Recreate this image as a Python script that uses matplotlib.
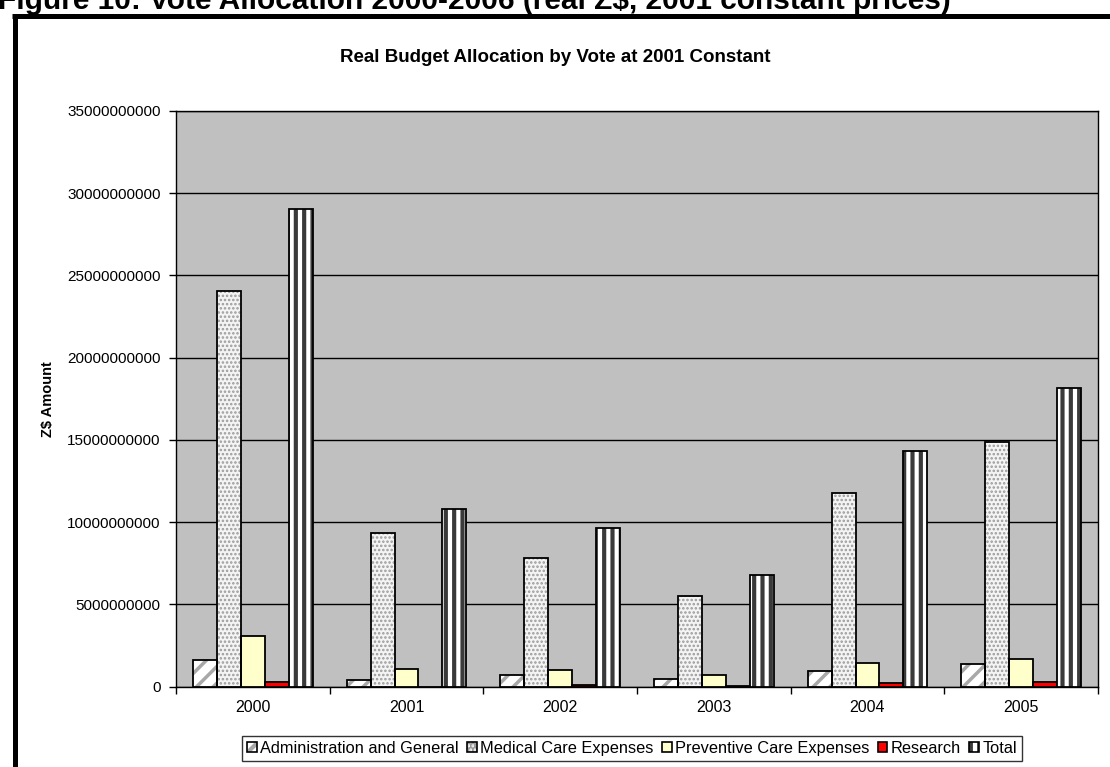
import matplotlib
matplotlib.use("Agg")
import matplotlib.pyplot as plt
from matplotlib.lines import Line2D
from matplotlib.patches import Patch
from matplotlib.legend_handler import HandlerTuple
import numpy as np

plt.rcParams['font.family'] = ['Liberation Sans', 'DejaVu Sans']

years = ['2000', '2001', '2002', '2003', '2004', '2005']
series_names = ['Administration and General', 'Medical Care Expenses',
                'Preventive Care Expenses', 'Research', 'Total']
admin = [1.61e9, 0.38e9, 0.70e9, 0.45e9, 0.96e9, 1.39e9]
medical = [24.08e9, 9.33e9, 7.81e9, 5.50e9, 11.78e9, 14.88e9]
preventive = [3.07e9, 1.08e9, 1.00e9, 0.72e9, 1.41e9, 1.65e9]
research = [0.29e9, 0.0e9, 0.10e9, 0.05e9, 0.19e9, 0.27e9]
total = [29.07e9, 10.77e9, 9.62e9, 6.76e9, 14.33e9, 18.16e9]
yticks = [0, 5e9, 10e9, 15e9, 20e9, 25e9, 30e9, 35e9]

W, H = 1110, 767
fig = plt.figure(figsize=(W / 100, H / 100), dpi=100)
fig.patch.set_facecolor('white')

ax = fig.add_axes([176 / W, 1 - 686.5 / H, (1098 - 176) / W, (686.5 - 111) / H])
ax.set_facecolor('#C0C0C0')

styles = [
    dict(face='white', hatch='//', hcolor='#A8A8A8', hlw=2.5),
    dict(face='#F4F4F4', hatch='....', hcolor='#9A9A9A', hlw=1.2),
    dict(face='#FFFFCC', hatch=None, hcolor='black', hlw=1.0),
    dict(face='#FF0000', hatch=None, hcolor='black', hlw=1.0),
    dict(face='white', hatch='||', hcolor='#3A3A3A', hlw=3.0),
]
data = [admin, medical, preventive, research, total]
x = np.arange(len(years))
w = 0.156


def set_hlw(p, lw):
    try:
        p.set_hatch_linewidth(lw)
    except Exception:
        pass


handles = []
for i, (vals, st) in enumerate(zip(data, styles)):
    pos = x + (i - 2) * w
    if st['hatch']:
        plt.rcParams['hatch.linewidth'] = st['hlw']
        bars = ax.bar(pos, vals, width=w, color=st['face'], edgecolor=st['hcolor'],
                      hatch=st['hatch'], linewidth=0, zorder=3)
        for b in bars:
            set_hlw(b, st['hlw'])
        ax.bar(pos, vals, width=w, fill=False, edgecolor='black', linewidth=1.3, zorder=4)
        h1 = Patch(facecolor=st['face'], edgecolor=st['hcolor'], hatch=st['hatch'], linewidth=0)
        set_hlw(h1, min(st['hlw'], 1.5))
        h2 = Patch(fill=False, edgecolor='black', linewidth=1.2)
        handles.append((h1, h2))
    else:
        ax.bar(pos, vals, width=w, color=st['face'], edgecolor='black',
               linewidth=1.3, zorder=3)
        handles.append(Patch(facecolor=st['face'], edgecolor='black', linewidth=1.2))

ax.set_xlim(-0.5, len(years) - 0.5)
ax.set_ylim(0, 35e9)
ax.set_yticks(yticks)
ax.set_yticklabels([str(int(v)) for v in yticks], fontsize=11)
ax.yaxis.grid(True, color='black', linewidth=1.0, zorder=1)
ax.set_axisbelow(True)
ax.set_xticks(x)
ax.set_xticklabels(years, fontsize=11.5)
ax.tick_params(axis='x', which='major', length=0, pad=10)
ax.set_xticks(np.arange(-0.5, len(years)), minor=True)
ax.tick_params(axis='x', which='minor', length=5, width=1, direction='out', color='black')
ax.tick_params(axis='y', length=5, width=1, direction='out', pad=6)
for s in ax.spines.values():
    s.set_color('black')
    s.set_linewidth(1.0)

ax.set_ylabel('Z$ Amount', fontsize=10.5, fontweight='bold')
ax.yaxis.set_label_coords(-0.131, 0.5)

fig.text(555 / W, 1 - 57 / H, 'Real Budget Allocation by Vote at 2001 Constant',
         ha='center', va='center', fontsize=13.5, fontweight='bold')

fig.text(-2 / W, 1 - 9 / H, 'Figure 10: Vote Allocation 2000-2006 (real Z$, 2001 constant prices)',
         ha='left', va='baseline', fontsize=21.5, fontweight='bold')

fig.add_artist(Line2D([12 / W, 1.0], [1 - 15.5 / H, 1 - 15.5 / H], color='black',
                      linewidth=3.6, transform=fig.transFigure, solid_capstyle='butt'))
fig.add_artist(Line2D([15 / W, 15 / W], [1 - 13.5 / H, 0], color='black',
                      linewidth=3.6, transform=fig.transFigure, solid_capstyle='butt'))

leg = fig.legend(handles, series_names, loc='center',
                 bbox_to_anchor=(632 / W, 1 - 748.5 / H), ncol=5, fontsize=11.8,
                 frameon=True, fancybox=False, shadow=False, handlelength=0.6,
                 handleheight=0.6, handletextpad=0.2, columnspacing=0.5,
                 borderpad=0.3, borderaxespad=0,
                 handler_map={tuple: HandlerTuple(ndivide=1, pad=0)})
leg.get_frame().set_edgecolor('black')
leg.get_frame().set_linewidth(1.0)

fig.savefig('out.png', dpi=100, facecolor='white')
